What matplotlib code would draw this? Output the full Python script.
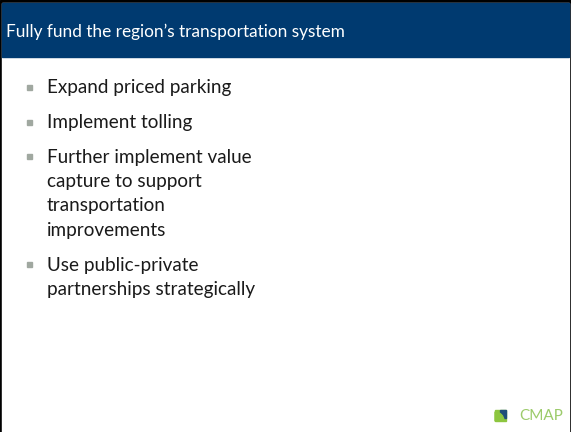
import matplotlib.pyplot as plt
from matplotlib.patches import Rectangle, Wedge

title = "Fully fund the region\u2019s transportation system"
bullets = [
    ["Expand priced parking"],
    ["Implement tolling"],
    ["Further implement value", "capture to support", "transportation", "improvements"],
    ["Use public-private", "partnerships strategically"],
]
brand = "CMAP"

navy = "#003A70"
green = "#8DC63F"

plt.rcParams['font.family'] = ['Lato', 'DejaVu Sans']

fig = plt.figure(figsize=(5.71, 4.32), dpi=100)
ax = fig.add_axes([0, 0, 1, 1])
ax.set_xlim(0, 571)
ax.set_ylim(432, 0)
ax.axis('off')

# frame and header band
ax.add_patch(Rectangle((0, 0), 571, 432, color='black'))
ax.add_patch(Rectangle((2, 3), 567, 432, color='white'))
ax.add_patch(Rectangle((2, 3), 567, 54, color=navy))
ax.text(6, 32, title, color='white', fontsize=12.4, va='center', ha='left')

# bullet list
y = 88
for item in bullets:
    ax.add_patch(Rectangle((27, y - 3), 5, 5, color='#A0A8A0'))
    for line in item:
        ax.text(47, y, line, fontsize=13.6, va='center', ha='left', color='#1A1A1A')
        y += 24.5
    y += 10

# logo: green square, dark corner top right
ax.add_patch(Rectangle((495, 410), 11, 11, color=green))
ax.add_patch(Rectangle((500, 410), 6, 8, color='#1F4E79'))
ax.add_patch(Wedge((495, 421), 9, 270, 360, color=green))
ax.text(519, 416, brand, color='#9CCB6B', fontsize=11, va='center', ha='left')

fig.savefig("out.png", dpi=100)
